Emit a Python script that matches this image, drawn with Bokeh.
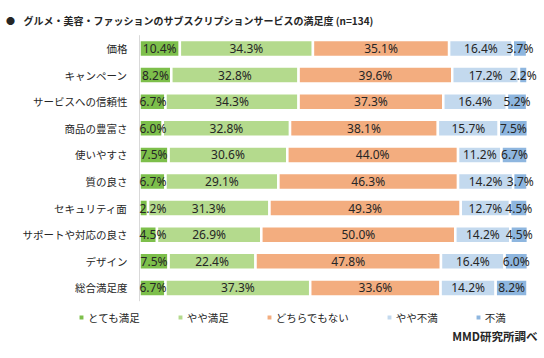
from bokeh.plotting import figure
from bokeh.models import ColumnDataSource, Legend, LegendItem, Range1d
from bokeh.core.properties import value
from bokeh.embed import file_html
from bokeh.resources import INLINE
import numpy as np

categories = ["価格", "キャンペーン", "サービスへの信頼性", "商品の豊富さ", "使いやすさ",
              "質の良さ", "セキュリティ面", "サポートや対応の良さ", "デザイン", "総合満足度"]
series_names = ["とても満足", "やや満足", "どちらでもない", "やや不満", "不満"]
very_satisfied = [10.4, 8.2, 6.7, 6.0, 7.5, 6.7, 2.2, 4.5, 7.5, 6.7]
somewhat_satisfied = [34.3, 32.8, 34.3, 32.8, 30.6, 29.1, 31.3, 26.9, 22.4, 37.3]
neutral = [35.1, 39.6, 37.3, 38.1, 44.0, 46.3, 49.3, 50.0, 47.8, 33.6]
somewhat_dissatisfied = [16.4, 17.2, 16.4, 15.7, 11.2, 14.2, 12.7, 14.2, 16.4, 14.2]
dissatisfied = [3.7, 2.2, 5.2, 7.5, 6.7, 3.7, 4.5, 4.5, 6.0, 8.2]
colors = ["#7DBF4B", "#B4DA8D", "#F3AD7F", "#C3D9EE", "#8EB6DF"]
title_text = "グルメ・美容・ファッションのサブスクリプションサービスの満足度 (n=134)"
source_text = "MMD研究所調べ"

series = [very_satisfied, somewhat_satisfied, neutral, somewhat_dissatisfied, dissatisfied]
keys = ["s%d" % i for i in range(5)]

# ---- layout geometry (pixels in the picture) ----
W, H = 542, 356
ORIGIN = 0                 # canvas offset in the picture
PX_PER_PCT = 3.88          # 100% = 388 px
X0_PAGE = 139              # x of 0%
ROW0_PAGE = 48             # y of first row centre
ROW_PX = 26.6              # row pitch

def px_x(page_x):
    return (page_x - X0_PAGE) / PX_PER_PCT

def px_y(page_y):
    return -(page_y - ROW0_PAGE) / ROW_PX

x_range = Range1d(px_x(ORIGIN), px_x(ORIGIN + W))
y_range = Range1d(px_y(ORIGIN + H), px_y(ORIGIN))

rows = [-float(i) for i in range(len(categories))]
data = {"row": rows, "cat": categories}
for k, s in zip(keys, series):
    data[k] = s
source = ColumnDataSource(data)

JP = "Noto Sans CJK JP"

p = figure(width=W, height=H, output_backend="svg", toolbar_location=None,
           x_range=x_range, y_range=y_range,
           x_axis_location=None, y_axis_location=None,
           min_border=0)
p.xgrid.visible = False
p.ygrid.visible = False
p.outline_line_color = None

renderers = p.hbar_stack(keys, y="row", height=0.64, color=colors, source=source,
                         line_color="white", line_width=2.5)

# category axis (line + labels)
p.segment(x0=[0], y0=[0.5], x1=[0], y1=[-(len(categories) - 0.5)],
          line_color="#d9d9d9", line_width=1)
p.text(x=px_x(127), y="row", text="cat", source=source, text_align="right",
       text_baseline="middle", text_font=value(JP), text_font_size="10.5px",
       text_color="#262626")

# data labels (kept inside the plot area on the left, as Excel does)
arr = np.array(series)
cum = np.cumsum(arr, axis=0)
half_w = 3.7
cx, cy, ct, lx, ly, lt = [], [], [], [], [], []
for i in range(5):
    centers = cum[i] - arr[i] / 2
    for j, c in enumerate(centers):
        t = "%.1f%%" % series[i][j]
        if c < half_w:
            lx.append(0.0); ly.append(rows[j]); lt.append(t)
        else:
            cx.append(float(c)); cy.append(rows[j]); ct.append(t)

for xs, ys, ts, al in [(cx, cy, ct, "center"), (lx, ly, lt, "left")]:
    lsrc = ColumnDataSource(dict(x=xs, y=ys, t=ts))
    p.text(x="x", y="y", text="t", source=lsrc, text_align=al,
           text_baseline="middle", text_font=value("Noto Sans"),
           text_font_size="12px", text_color="#262626")

# title
p.text(x=[px_x(10)], y=[px_y(20)], text=["●"], text_align="center",
       text_baseline="middle", text_font=value(JP), text_font_size="9px",
       text_color="#262626")
p.text(x=[px_x(23)], y=[px_y(20)], text=[title_text], text_align="left",
       text_baseline="middle", text_font=value(JP), text_font_size="10px",
       text_font_style="bold", text_color="#262626")

# source note
p.text(x=[px_x(537)], y=[px_y(335)], text=[source_text], text_align="right",
       text_baseline="middle", text_font=value(JP), text_font_size="11.5px",
       text_font_style="bold", text_color="#262626")

legend = Legend(items=[LegendItem(label=n, renderers=[r]) for n, r in zip(series_names, renderers)],
                orientation="horizontal", location=(77 - ORIGIN, (ORIGIN + H) - 327),
                glyph_width=8, glyph_height=8, label_standoff=3, spacing=36,
                label_height=20, padding=0, margin=0, border_line_color=None,
                background_fill_alpha=0,
                label_text_font=JP, label_text_font_size="10.5px", label_text_color="#262626")
p.add_layout(legend, "center")

open("out.html", "w").write(file_html(p, INLINE))
